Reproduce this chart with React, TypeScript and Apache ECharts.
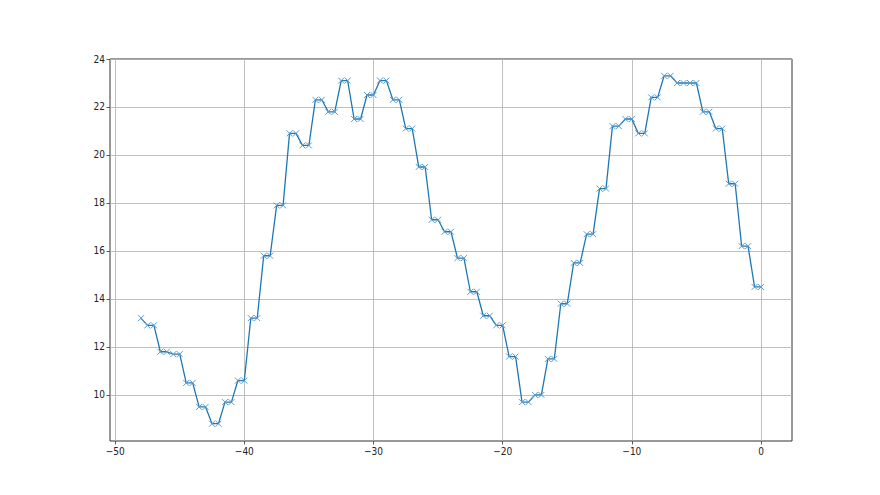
import React, { useEffect, useRef } from "react";
import * as echarts from "echarts";

const xValues: number[] = [];
for (let i = 0; i <= 96; i++) xValues.push(-48 + i * 0.5);

const yValues: number[] = [
  13.2,
  12.9, 12.9, 11.8, 11.8, 11.7, 11.7, 10.5, 10.5, 9.5, 9.5, 8.8, 8.8, 9.7, 9.7, 10.6, 10.6,
  13.2, 13.2, 15.8, 15.8, 17.9, 17.9, 20.9, 20.9, 20.4, 20.4, 22.3, 22.3, 21.8, 21.8, 23.1, 23.1,
  21.5, 21.5, 22.5, 22.5, 23.1, 23.1, 22.3, 22.3, 21.1, 21.1, 19.5, 19.5, 17.3, 17.3, 16.8, 16.8,
  15.7, 15.7, 14.3, 14.3, 13.3, 13.3, 12.9, 12.9, 11.6, 11.6, 9.7, 9.7, 10.0, 10.0, 11.5, 11.5,
  13.8, 13.8, 15.5, 15.5, 16.7, 16.7, 18.6, 18.6, 21.2, 21.2, 21.5, 21.5, 20.9, 20.9, 22.4, 22.4,
  23.3, 23.3, 23.0, 23.0, 23.0, 23.0, 21.8, 21.8, 21.1, 21.1, 18.8, 18.8, 16.2, 16.2, 14.5, 14.5,
];

const xTicks = [-50, -40, -30, -20, -10, 0];
const yTicks = [10, 12, 14, 16, 18, 20, 22, 24];

const labelFont = "'Liberation Sans Narrow', 'DejaVu Sans Condensed', 'DejaVu Sans', sans-serif";

export default function App() {
  const ref = useRef<HTMLDivElement>(null);
  useEffect(() => {
    if (!ref.current) return;
    const chart = echarts.init(ref.current, null, { renderer: "svg" });
    const data = xValues.map((x, i) => [x, yValues[i]]);
    chart.setOption({
      animation: false,
      backgroundColor: "#ffffff",
      grid: {
        left: 110,
        right: 88,
        top: 59,
        bottom: 54,
        show: true,
        borderColor: "#333333",
        borderWidth: 1,
        backgroundColor: "transparent",
      },
      xAxis: {
        type: "value",
        position: "bottom",
        min: -50.4,
        max: 2.4,
        axisLine: { show: false, onZero: false },
        axisTick: {
          show: true,
          customValues: xTicks,
          length: 3.5,
          inside: false,
          lineStyle: { color: "#333333", width: 0.8 },
        },
        axisLabel: {
          customValues: xTicks,
          color: "#222222",
          fontFamily: labelFont,
          fontSize: 10,
          margin: 5,
          formatter: (v: number) => (v < 0 ? "\u2212" + Math.abs(v) : String(v)),
        },
        splitLine: { show: true, lineStyle: { color: "#b0b0b0", width: 0.8 } },
      },
      yAxis: {
        type: "value",
        position: "left",
        min: 8.08,
        max: 24,
        axisLine: { show: false, onZero: false },
        axisTick: {
          show: true,
          customValues: yTicks,
          length: 3.5,
          inside: false,
          lineStyle: { color: "#333333", width: 0.8 },
        },
        axisLabel: {
          customValues: yTicks,
          color: "#222222",
          fontFamily: labelFont,
          fontSize: 10,
          margin: 5,
        },
        splitLine: { show: true, lineStyle: { color: "#b0b0b0", width: 0.8 } },
      },
      series: [
        {
          type: "line",
          data,
          symbol: "path://M0,0L10,10M10,0L0,10",
          symbolSize: 6,
          showSymbol: true,
          itemStyle: { color: "#1f77b4", borderColor: "#5a9bd0", borderWidth: 1 },
          lineStyle: { color: "#1f77b4", width: 1.3 },
        },
      ],
    });
    return () => chart.dispose();
  }, []);
  return <div ref={ref} style={{ width: 880, height: 495, position: "fixed", left: 0, top: 0 }} />;
}
